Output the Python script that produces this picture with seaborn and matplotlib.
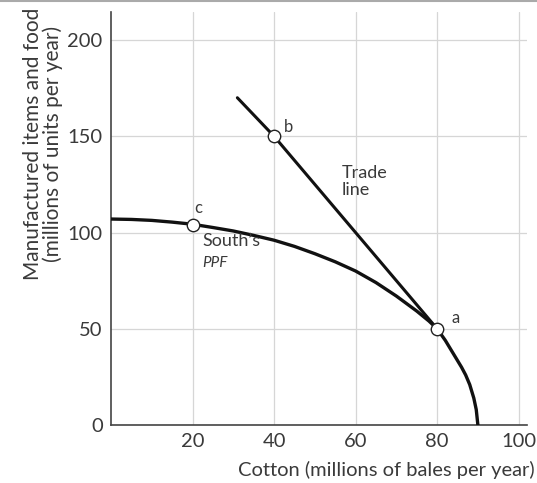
import matplotlib
matplotlib.use("Agg")
import matplotlib.pyplot as plt
import seaborn as sns
import pandas as pd
from matplotlib.lines import Line2D

# South's PPF, points
ppf_x = [0, 5, 10, 15, 20, 25, 30, 35, 40, 45, 50, 55, 60, 65, 70, 75, 78, 80,
         82, 84, 86, 87, 88, 89, 89.6, 90]
ppf_y = [107, 106.8, 106.3, 105.4, 104.3, 102.6, 100.8, 98.5, 96, 92.8, 89, 84.8,
         80, 74, 67, 59.2, 54, 50, 44, 37, 30, 26, 21, 14, 8, 0]

# Trade line
trade_x = [31, 40, 80]
trade_y = [170, 150, 50]

# Labelled points
point_names = ["a", "b", "c"]
point_x = [80, 40, 20]
point_y = [50, 150, 104]

x_ticks = [20, 40, 60, 80, 100]
y_ticks = [0, 50, 100, 150, 200]

sns.set_style("white")
plt.rcParams["font.family"] = ["Lato", "DejaVu Sans"]
txt = "#3a3a3a"

fig = plt.figure(figsize=(5.37, 4.83), dpi=100)
ax = fig.add_axes([0.2067, 0.12, 0.7743, 0.855])

ppf = pd.DataFrame({"x": ppf_x, "y": ppf_y})
trade = pd.DataFrame({"x": trade_x, "y": trade_y})
pts = pd.DataFrame({"x": point_x, "y": point_y, "name": point_names})

sns.lineplot(data=ppf, x="x", y="y", sort=False, color="#111111", lw=2.4, ax=ax, zorder=3)
sns.lineplot(data=trade, x="x", y="y", sort=False, color="#111111", lw=2.2, ax=ax, zorder=3)
sns.scatterplot(data=pts, x="x", y="y", s=80, facecolor="white", edgecolor="#222222",
                linewidth=1.0, ax=ax, zorder=5)

ax.set_xlim(0, 102)
ax.set_ylim(0, 214.5)
ax.set_xticks(x_ticks)
ax.set_yticks(y_ticks)
ax.grid(True, color="#d6d6d6", lw=0.9)
for s in ["top", "right"]:
    ax.spines[s].set_visible(False)
for s in ["left", "bottom"]:
    ax.spines[s].set_color("#444444")
    ax.spines[s].set_linewidth(1.2)
ax.tick_params(axis="both", length=4, width=1, color="#666666", direction="in",
               labelsize=14.5, labelcolor=txt, pad=6)

ax.set_xlabel("Cotton (millions of bales per year)", fontsize=14.5, color=txt)
ax.xaxis.set_label_coords(1.02, -0.088)
ax.xaxis.label.set_horizontalalignment("right")
ax.set_ylabel("Manufactured items and food\n(millions of units per year)", fontsize=15,
              color=txt, linespacing=1.0)
ax.yaxis.set_label_coords(-0.115, 0.68)

# point labels
ax.text(20.5, 110, "c", fontsize=12, color=txt)
ax.text(42.5, 152, "b", fontsize=12, color=txt)
ax.text(83.5, 53, "a", fontsize=12, color=txt)
ax.text(56.5, 135, "Trade\nline", fontsize=13, color=txt, va="top", linespacing=1.1)
ax.text(22.5, 100, "South\u2019s", fontsize=13, color=txt, va="top")
ax.text(22.5, 88, "PPF", fontsize=11, color=txt, va="top", style="italic")

fig.add_artist(Line2D([0, 1], [0.998, 0.998], color="#aaaaaa", lw=1.5))

fig.savefig("out.png", dpi=100)
